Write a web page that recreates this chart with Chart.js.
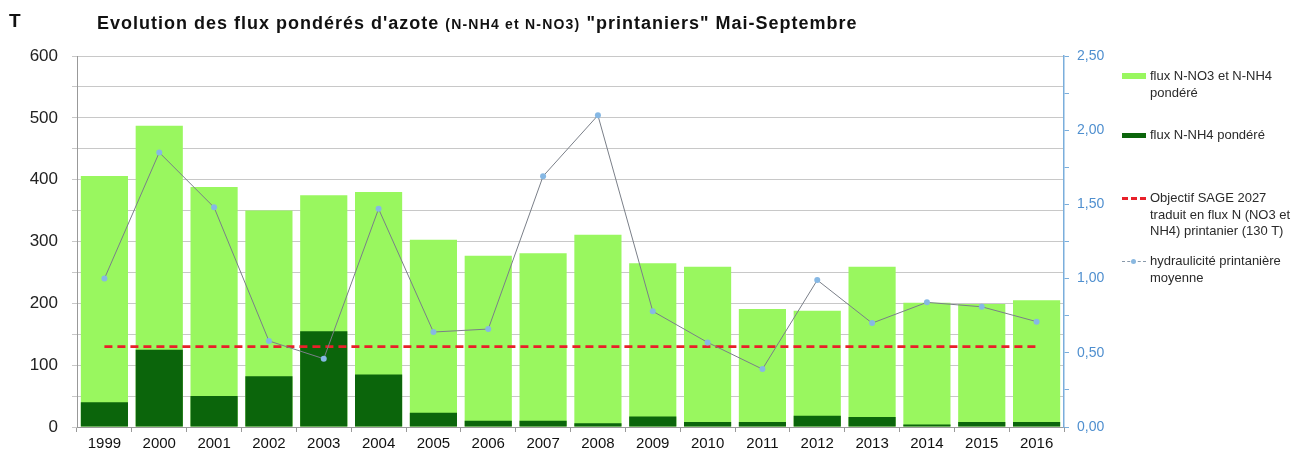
<!DOCTYPE html>
<html><head><meta charset="utf-8">
<script src="https://cdn.jsdelivr.net/npm/chart.js@4.4.1/dist/chart.umd.min.js"></script>
<style>
html,body{margin:0;padding:0;background:#fff;}
#wrap{position:relative;width:1300px;height:453px;font-family:"Liberation Sans",Arial,sans-serif;}
canvas{position:absolute;left:0;top:0;}
.t{position:absolute;font-weight:bold;color:#111;white-space:nowrap;}
.lg{position:absolute;font-size:13px;color:#2a2a2a;line-height:16.5px;}
.sw{position:absolute;}
</style></head>
<body><div id="wrap">
<canvas id="c" width="1300" height="453"></canvas>
<div class="t" style="left:9px;top:10px;font-size:19px;">T</div>
<div class="t" style="left:97px;top:13px;font-size:18px;letter-spacing:1px;">Evolution des flux pondérés d'azote <span style="font-size:14px;letter-spacing:1.2px;">(N-NH4 et N-NO3)</span> "printaniers" Mai-Septembre</div>
<div class="sw" style="left:1122px;top:73px;width:24px;height:6px;background:#99f75f;"></div>
<div class="lg" style="left:1150px;top:68px;">flux N-NO3 et N-NH4<br>pondéré</div>
<div class="sw" style="left:1122px;top:133px;width:24px;height:5px;background:#0b650b;"></div>
<div class="lg" style="left:1150px;top:127px;">flux N-NH4 pondéré</div>
<div class="sw" style="left:1122px;top:197px;width:24px;height:0;border-top:3px dashed #e8202a;"></div>
<div class="lg" style="left:1150px;top:190px;">Objectif SAGE 2027<br>traduit en flux N (NO3 et<br>NH4) printanier (130 T)</div>
<div class="sw" style="left:1122px;top:261px;width:24px;height:0;border-top:1px dashed #8899aa;"></div>
<div class="sw" style="left:1131px;top:259px;width:5px;height:5px;border-radius:3px;background:#8ab8e0;"></div>
<div class="lg" style="left:1150px;top:253px;">hydraulicité printanière<br>moyenne</div>
</div>
<script>
const years = ["1999","2000","2001","2002","2003","2004","2005","2006","2007","2008","2009","2010","2011","2012","2013","2014","2015","2016"];
const fluxTotal = [406,487,388,350,375,380,303,277,281,311,265,259,191,188,259,201,199,205];
const fluxNH4 = [40,125,50,82,155,85,23,10,10,6,17,8,8,18,16,4,8,8];
const objectif = [130,130,130,130,130,130,130,130,130,130,130,130,130,130,130,130,130,130];
const hydraulicite = [1.00,1.85,1.48,0.58,0.46,1.47,0.64,0.66,1.69,2.10,0.78,0.57,0.39,0.99,0.70,0.84,0.81,0.71];

new Chart(document.getElementById('c'), {
  data: {
    labels: years,
    datasets: [
      {type:'line', label:'hydraulicité printanière moyenne', data:hydraulicite, yAxisID:'y1', order:0,
       borderColor:'#7a7f88', borderWidth:1, pointRadius:3, pointBackgroundColor:'#86b8e4', pointBorderWidth:0, tension:0},
      {type:'line', label:'Objectif SAGE 2027', data:objectif, yAxisID:'y', order:1,
       borderColor:'#e8202a', borderWidth:2.8, borderDash:[8,5], pointRadius:0},
      {type:'bar', label:'flux N-NH4 pondéré', data:fluxNH4, yAxisID:'y', order:2,
       backgroundColor:'#0b650b', categoryPercentage:1, barPercentage:0.86},
      {type:'bar', label:'flux N-NO3 et N-NH4 pondéré', data:fluxTotal, yAxisID:'y', order:3,
       backgroundColor:'#99f75f', categoryPercentage:1, barPercentage:0.86}
    ]
  },
  options: {
    responsive:false, animation:false,
    layout:{padding:{top:56,bottom:0,left:0,right:0}},
    plugins:{legend:{display:false}, title:{display:false}, tooltip:{enabled:false}},
    scales:{
      x:{stacked:true, offset:true,
         grid:{display:true, drawOnChartArea:false, offset:true, tickLength:5, color:'#999'},
         border:{color:'#999'},
         ticks:{color:'#111', font:{family:'Liberation Sans', size:15}, padding:3, maxRotation:0},
         afterFit:(s)=>{s.height=26;}},
      y:{position:'left', stacked:false, min:0, max:600,
         ticks:{stepSize:50, color:'#222', font:{family:'Liberation Sans', size:17}, padding:14,
                callback:(v)=> (v%100===0 ? String(v) : '')},
         grid:{color:'#c8c8c8', tickLength:5, lineWidth:1},
         border:{color:'#999'},
         afterFit:(s)=>{s.width=77;}},
      y1:{position:'right', min:0, max:2.5,
          ticks:{stepSize:0.25, color:'#4f8fcf', font:{family:'Liberation Sans', size:14}, padding:8,
                 callback:(v)=> (Math.abs(v*2-Math.round(v*2))<1e-6 ? v.toFixed(2).replace('.',',') : '')},
          grid:{drawOnChartArea:false, tickLength:5, color:'#7aaedc'},
          border:{color:'#7aaedc', width:1.5},
          afterFit:(s)=>{s.width=236;}}
    }
  }
});
</script>
</body></html>
